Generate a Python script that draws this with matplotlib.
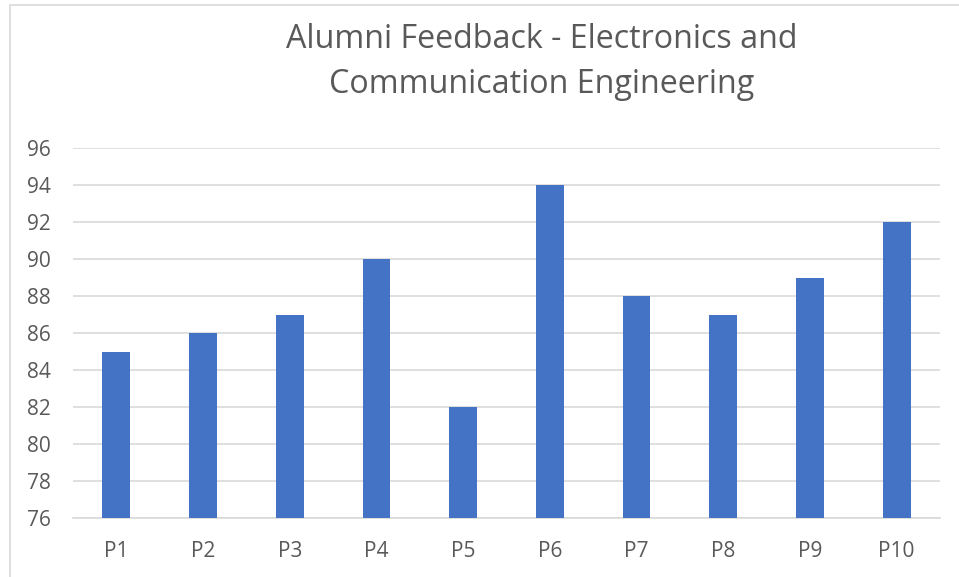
import matplotlib
matplotlib.use("Agg")
import matplotlib.pyplot as plt
from matplotlib.patches import Rectangle

categories = ["P1", "P2", "P3", "P4", "P5", "P6", "P7", "P8", "P9", "P10"]
scores = [85, 86, 87, 90, 82, 94, 88, 87, 89, 92]
y_ticks = [76, 78, 80, 82, 84, 86, 88, 90, 92, 94, 96]
title = "Alumni Feedback - Electronics and\nCommunication Engineering"

plt.rcParams["font.family"] = ["Open Sans", "DejaVu Sans"]
text_color = "#595959"
grid_color = "#d9d9d9"
bar_color = "#4472c4"

W, H = 959, 577
fig = plt.figure(figsize=(W / 100, H / 100), dpi=100)
fig.patch.set_facecolor("white")

# chart frame
fig.add_artist(Rectangle((9.5 / W, -0.01), 1.1, 1 - 4.5 / H + 0.01,
                         transform=fig.transFigure, fill=False,
                         edgecolor="#d9d9d9", linewidth=1.2, clip_on=False))

ax = fig.add_axes([73 / W, 59 / H, 867 / W, 370 / H])
x = list(range(len(categories)))
ax.bar(x, scores, width=0.32, color=bar_color, zorder=3)
ax.set_xlim(-0.5, len(categories) - 0.5)
ax.set_ylim(y_ticks[0], y_ticks[-1])
ax.set_yticks(y_ticks)
ax.set_xticks(x)
ax.set_xticklabels(categories)
ax.yaxis.grid(True, color=grid_color, linewidth=1.2, zorder=0)
ax.set_axisbelow(True)
for side in ["top", "right", "left"]:
    ax.spines[side].set_visible(False)
ax.spines["bottom"].set_color(grid_color)
ax.spines["bottom"].set_linewidth(1.2)
ax.tick_params(axis="both", length=0, labelsize=15, colors=text_color)
ax.tick_params(axis="y", pad=16)
ax.tick_params(axis="x", pad=16.5)

fig.text(541.5 / W, 1 - 62 / H, title, ha="center", va="center",
         fontsize=23.2, color=text_color, linespacing=1.5)

fig.savefig("out.png", dpi=100)
